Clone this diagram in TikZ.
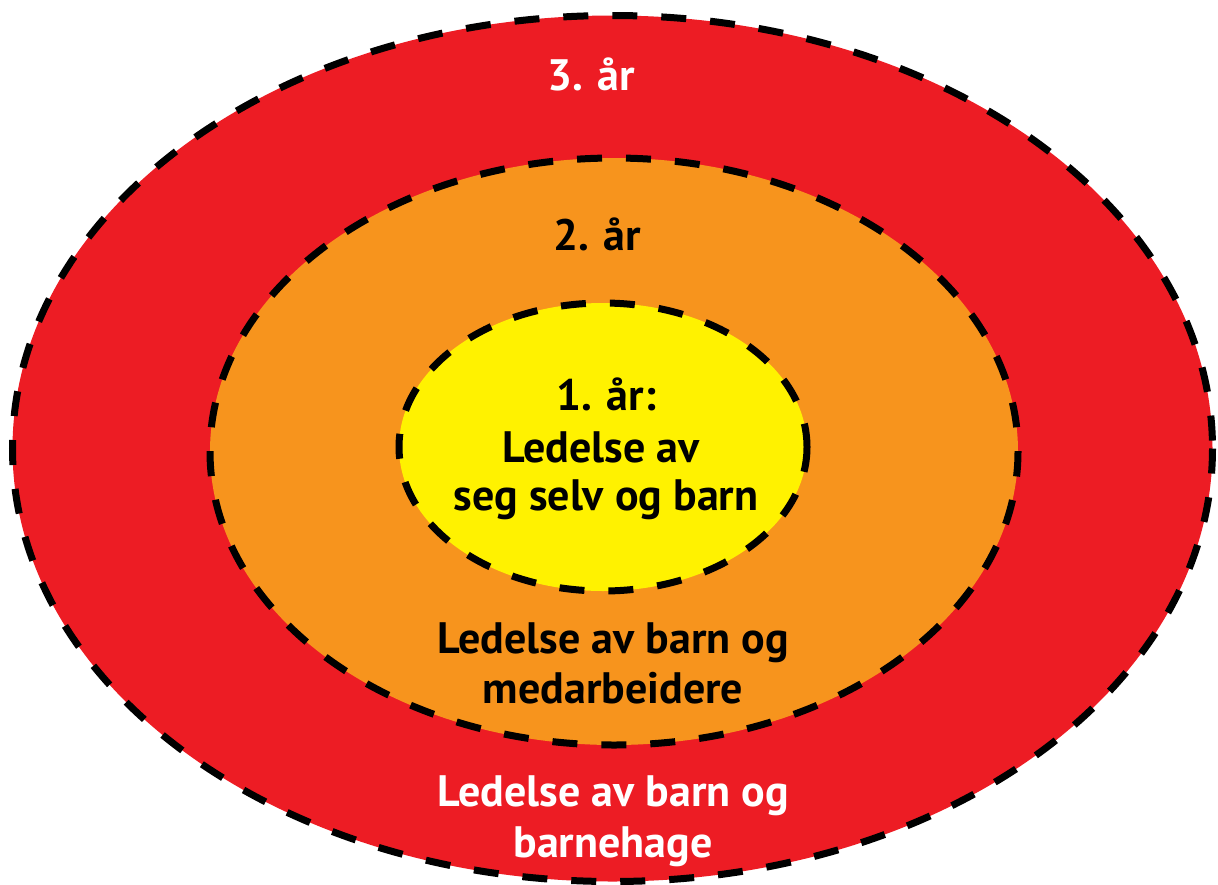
\documentclass[tikz,border=0pt]{standalone}
\usepackage{fontspec}
\setmainfont{PT Sans}
\definecolor{ringred}{HTML}{ED1C24}
\definecolor{ringorange}{HTML}{F7941D}
\definecolor{ringyellow}{HTML}{FFF200}
\begin{document}
\begin{tikzpicture}[x=1pt,y=-1pt,
  ring/.style={draw=black,line width=7pt,dash pattern=on 25pt off 24pt},
  lbl/.style={font=\fontsize{44}{50}\selectfont\bfseries,anchor=base,inner sep=0pt}]
\useasboundingbox (0,0) rectangle (1218,884);
\fill[white] (0,0) rectangle (1218,884);
\path[ring,fill=ringred] (612.5,448.5) ellipse [x radius=600,y radius=433];
\path[ring,fill=ringorange] (614,451.5) ellipse [x radius=404,y radius=293.5];
\path[ring,fill=ringyellow] (603,447) ellipse [x radius=204,y radius=144];
\node[lbl,text=white] (y3) at (591,90) {3. år};
\node[lbl] (y2) at (597,250) {2. år};
\node[lbl] (y1a) at (606,410) {1. år:};
\node[lbl] (y1b) at (601,462) {Ledelse av};
\node[lbl] (y1c) at (606,510) {seg selv og barn};
\node[lbl] (m2a) at (613,653) {Ledelse av barn og};
\node[lbl] (m2b) at (613,703) {medarbeidere};
\node[lbl,text=white] (m3a) at (613,806) {Ledelse av barn og};
\node[lbl,text=white] (m3b) at (613,857) {barnehage};
\end{tikzpicture}
\end{document}
